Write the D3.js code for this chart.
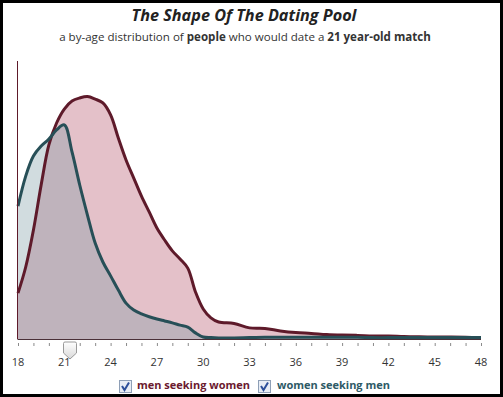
<!DOCTYPE html>
<html><head><meta charset="utf-8">
<script src="https://cdn.jsdelivr.net/npm/d3@7"></script>
<style>body{margin:0;background:#fff}svg{display:block}</style>
</head><body>
<svg id="c" width="503" height="397"></svg>
<script>
const ages = [18,18.5,19,19.5,20,20.5,21,21.5,22,22.5,23,23.5,24,24.5,25,25.5,26,26.5,27,27.5,28,28.5,29,29.5,30,30.5,31,32,33,34,35,36,37,38,39,40,41,42,43,44,45,46,47,48];
const menSeekingWomen = [16.5,25.9,39.2,55.4,69.8,77.7,82.7,85.6,86.7,87.2,86.3,84.9,80.6,72.3,64.4,57.9,51.4,45.7,39.9,35.6,31.7,28.8,25.5,16.9,10.8,7.6,6.1,5.6,4.0,3.8,2.9,2.3,2.0,1.6,1.4,1.3,1.1,1.1,0.9,0.8,0.7,0.7,0.6,0.5];
const womenSeekingMen = [47.8,58.6,65.8,69.4,71.9,75.2,77.0,67.3,55.4,44.6,34.5,27.7,22.7,17.6,12.9,10.4,9.0,8.0,7.2,6.5,5.8,5.0,4.3,2.2,0.7,0.5,0.4,0.4,0.5,0.6,0.6,0.6,0.6,0.6,0.6,0.6,0.5,0.5,0.5,0.5,0.5,0.5,0.5,0.5];
const tickLabels = [18,21,24,27,30,33,36,39,42,45,48];
const legendLabels = ["men seeking women","women seeking men"];
const title = "The Shape Of The Dating Pool";

const svg = d3.select("#c");
const x = d3.scaleLinear().domain([18,48]).range([18,481]);
const y = d3.scaleLinear().domain([0,100]).range([339,61]);

// frame
svg.append("rect").attr("x",1.5).attr("y",1.5).attr("width",500).attr("height",394)
  .attr("fill","#fff").attr("stroke","#000").attr("stroke-width",3);

function fitText(sel, w){
  let fs = parseFloat(sel.attr("font-size"));
  for(let i=0;i<4;i++){
    const len = sel.node().getComputedTextLength();
    fs = fs * w / len; sel.attr("font-size", fs.toFixed(2));
  }
}

// title
const t = svg.append("text").attr("x",244).attr("y",21).attr("text-anchor","middle")
  .attr("font-family","'Open Sans', sans-serif").attr("font-style","italic").attr("font-weight","bold")
  .attr("font-size",16).attr("fill","#222").text(title);
fitText(t,225);
const st = svg.append("text").attr("x",245).attr("y",41).attr("text-anchor","middle")
  .attr("font-family","'Open Sans', sans-serif").attr("font-size",12).attr("fill","#333");
st.append("tspan").text("a by-age distribution of ");
st.append("tspan").attr("font-weight","bold").text("people");
st.append("tspan").text(" who would date a ");
st.append("tspan").attr("font-weight","bold").text("21 year-old match");
fitText(st,372);

const series = [
  {vals: menSeekingWomen, fill:"#e4c1c9", fillOp:1, stroke:"#5e1a2a"},
  {vals: womenSeekingMen, fill:"#7a9aa4", fillOp:0.35, stroke:"#274f57"}
];
const curve = d3.curveCatmullRom.alpha(0.5);
const area = d3.area().x(d=>x(d[0])).y0(y(0)).y1(d=>y(d[1])).curve(curve);
const line = d3.line().x(d=>x(d[0])).y(d=>y(d[1])).curve(curve);

// fills
series.forEach(s=>{
  const pts = ages.map((a,i)=>[a,s.vals[i]]);
  svg.append("path").attr("d",area(pts)).attr("fill",s.fill).attr("fill-opacity",s.fillOp);
});
// lines
series.forEach(s=>{
  const pts = ages.map((a,i)=>[a,s.vals[i]]);
  svg.append("path").attr("d",line(pts)).attr("fill","none").attr("stroke",s.stroke)
    .attr("stroke-width",3).attr("stroke-linejoin","round");
});

// axes lines
svg.append("line").attr("x1",17.5).attr("x2",17.5).attr("y1",61).attr("y2",339).attr("stroke","#5e1a2a").attr("stroke-width",1);
svg.append("line").attr("x1",17.5).attr("x2",481).attr("y1",339.5).attr("y2",339.5).attr("stroke","#4a3038").attr("stroke-width",1);

// ticks
const ax = svg.append("g").attr("transform","translate(0,343)");
ax.selectAll("line").data(d3.range(18,49)).join("line")
  .attr("x1",d=>x(d)+0.5).attr("x2",d=>x(d)+0.5).attr("y1",0).attr("y2",3)
  .attr("stroke","#8a8a8a").attr("stroke-width",1);
ax.selectAll("text").data(tickLabels).join("text")
  .attr("x",d=>x(d)).attr("y",23).attr("text-anchor","middle")
  .attr("font-family","'Open Sans', sans-serif").attr("font-size",11).attr("fill","#333").text(d=>d);

// slider handle
const hx = 70, hy = 342;
svg.append("defs").append("linearGradient").attr("id","hg").attr("x1",0).attr("x2",0).attr("y1",0).attr("y2",1)
  .selectAll("stop").data([["0%","#ffffff"],["100%","#d9d9d9"]]).join("stop")
  .attr("offset",d=>d[0]).attr("stop-color",d=>d[1]);
svg.append("path").attr("d",`M${hx-6.5},${hy+1.5} Q${hx-6.5},${hy} ${hx-5},${hy} L${hx+5},${hy} Q${hx+6.5},${hy} ${hx+6.5},${hy+1.5} L${hx+6.5},${hy+11} L${hx},${hy+17} L${hx-6.5},${hy+11} Z`)
  .attr("fill","url(#hg)").attr("stroke","#9a9a9a").attr("stroke-width",1);

// legend
const lg = [{x:119, tx:137, color:"#6b1a2f"},{x:258, tx:277, color:"#2e5a66"}];
lg.forEach((l,i)=>{
  svg.append("rect").attr("x",l.x+0.5).attr("y",380.5).attr("width",12).attr("height",12)
    .attr("fill","#e8edf5").attr("stroke","#8e9fb6");
  svg.append("path").attr("d",`M${l.x+3},${l.y||386} L${l.x+5.5},${390} L${l.x+10},${382.5}`)
    .attr("fill","none").attr("stroke","#2c4f9a").attr("stroke-width",2);
  const tt = svg.append("text").attr("x",l.tx).attr("y",389).attr("font-family","'Open Sans', sans-serif")
    .attr("font-weight","bold").attr("font-size",13).attr("fill",l.color).text(legendLabels[i]);
  fitText(tt,113);
});
</script>
</body></html>
